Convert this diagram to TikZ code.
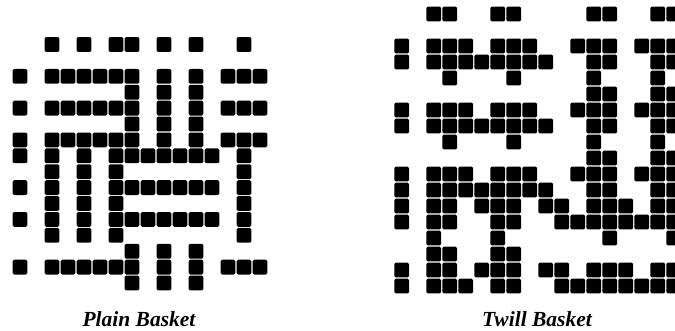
\documentclass[tikz,border=0pt]{standalone}
\usepackage{fontspec}
\setmainfont{Liberation Serif}

\begin{document}
\begin{tikzpicture}[
  x=1pt, y=-1pt,
  cell/.style={fill=black, rounded corners=1.5pt},
  caption/.style={font=\fontsize{21.5}{24}\selectfont\bfseries\itshape, anchor=base}
]
\useasboundingbox (0,0) rectangle (675,330);
\clip (0,0) rectangle (675,330);

% plain basket
\foreach \r/\cols in {0/{2,4,6,7,9,11,14},
    2/{0,2,3,4,5,6,7,9,11,13,14,15}, 3/{7,9,11},
    4/{0,2,3,4,5,6,7,9,11,13,14,15}, 5/{7,9,11},
    6/{0,2,3,4,5,6,7,9,11,13,14,15},
    7/{0,2,4,6,7,8,9,10,11,12,14}, 8/{2,4,6,14},
    9/{0,2,4,6,7,8,9,10,11,12,14}, 10/{2,4,6,14},
    11/{0,2,4,6,7,8,9,10,11,12,14}, 12/{2,4,6,14},
    13/{7,9,11}, 14/{0,2,3,4,5,6,7,9,11,13,14,15}, 15/{7,9,11}}
  \foreach \c in \cols
    \fill[cell] ({20+16*\c-7.4},{44.5+15.9*\r-7.4}) rectangle ++(14.8,14.8);

% twill basket
\foreach \r/\cols in {0/{2,3,6,7,12,13,16,17},
    2/{0,2,3,4,6,7,8,11,12,13,15,16,17}, 3/{0,2,3,4,5,6,7,8,9,12,13,16,17},
    4/{3,7,12,16}, 5/{12,13,16,17},
    6/{0,2,3,4,6,7,8,11,12,13,15,16,17}, 7/{0,2,3,4,5,6,7,8,9,12,13,16,17},
    8/{3,7,12,16}, 9/{12,13,16,17},
    10/{0,2,3,4,6,7,8,11,12,13,15,16,17}, 11/{0,2,3,4,5,6,7,8,9,12,13,16,17},
    12/{0,2,3,5,6,7,9,10,12,13,14,16,17}, 13/{0,2,3,6,7,10,11,12,13,14,15,16,17},
    14/{2,6,13,17}, 15/{2,3,6,7},
    16/{0,2,3,5,6,7,9,10,12,13,14,16,17}, 17/{0,2,3,4,6,7,10,11,12,13,14,15,16,17}}
  \foreach \c in \cols
    \fill[cell] ({401.7+16*\c-7.4},{14+16*\r-7.4}) rectangle ++(14.8,14.8);

\node[caption] (plain) at (139,326) {Plain Basket};
\node[caption] (twill) at (537,326) {Twill Basket};
\end{tikzpicture}
\end{document}
